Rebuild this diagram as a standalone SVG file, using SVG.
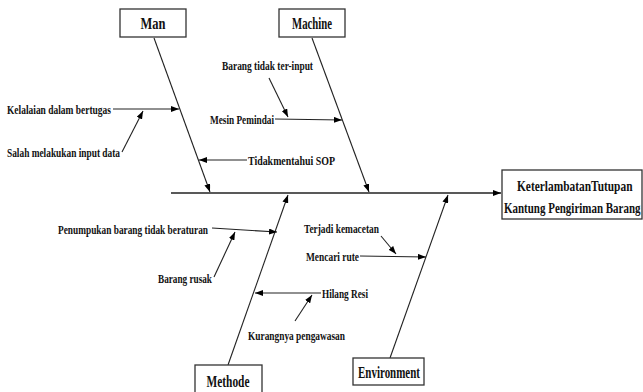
<svg xmlns="http://www.w3.org/2000/svg" width="643" height="392" viewBox="0 0 643 392">
<defs>
<marker id="ah" markerUnits="userSpaceOnUse" markerWidth="8" markerHeight="6" refX="8" refY="3" orient="auto">
<path d="M0,0 L8,3 L0,6 z" fill="#000"/>
</marker>
<style>
.box{fill:#fff;stroke:#333;stroke-width:1.3}
.t{font-family:"Liberation Serif",serif;font-weight:bold;font-size:13.5px;fill:#111}
.bt{font-family:"Liberation Serif",serif;font-weight:bold;font-size:17px;fill:#111;text-anchor:middle}
.et{font-family:"Liberation Serif",serif;font-weight:bold;font-size:15px;fill:#111}
.c line{stroke:#222;stroke-width:1.1;marker-end:url(#ah)}
</style>
</defs>
<rect width="643" height="392" fill="#fff"/>
<g id="connectors" class="c">
<line x1="171" y1="193" x2="501" y2="193" style="stroke-width:1.5"/>
<line x1="154" y1="38" x2="210" y2="192"/>
<line x1="312" y1="38" x2="369" y2="192"/>
<line x1="228" y1="365" x2="288" y2="195"/>
<line x1="390" y1="358" x2="448" y2="195"/>
<line x1="113" y1="109" x2="179" y2="109"/>
<line x1="122" y1="152" x2="143" y2="111"/>
<line x1="247" y1="160" x2="199" y2="160"/>
<line x1="269" y1="78" x2="288" y2="117"/>
<line x1="275" y1="119" x2="342" y2="120"/>
<line x1="212" y1="228" x2="277" y2="232"/>
<line x1="214" y1="277" x2="235" y2="232"/>
<line x1="321" y1="293" x2="255" y2="293"/>
<line x1="295" y1="321" x2="312" y2="295"/>
<line x1="381" y1="236" x2="396" y2="254"/>
<line x1="360" y1="256" x2="426" y2="257"/>
</g>
<g id="man"><rect class="box" x="120" y="9" width="66" height="28"/><text class="bt" x="153" y="29" textLength="25" lengthAdjust="spacingAndGlyphs">Man</text></g>
<g id="machine"><rect class="box" x="279" y="9" width="66" height="28"/><text class="bt" x="312" y="29" textLength="40" lengthAdjust="spacingAndGlyphs">Machine</text></g>
<g id="methode"><rect class="box" x="195" y="365" width="67" height="30"/><text class="bt" x="228" y="387" textLength="43" lengthAdjust="spacingAndGlyphs">Methode</text></g>
<g id="environment"><rect class="box" x="353" y="358" width="71" height="27"/><text class="bt" x="389" y="378" textLength="62" lengthAdjust="spacingAndGlyphs">Environment</text></g>
<g id="effect"><rect class="box" x="502" y="170" width="140" height="49"/>
<text class="et" transform="translate(517,191) scale(0.75,1)" textLength="154" lengthAdjust="spacingAndGlyphs">KeterlambatanTutupan</text>
<text class="et" transform="translate(504,213) scale(0.75,1)" textLength="182" lengthAdjust="spacingAndGlyphs">Kantung Pengiriman Barang</text></g>
<g id="kelalaian"><text class="t" x="7" y="114" textLength="104" lengthAdjust="spacingAndGlyphs">Kelalaian dalam bertugas</text></g>
<g id="salah"><text class="t" x="7" y="157" textLength="113" lengthAdjust="spacingAndGlyphs">Salah melakukan input data</text></g>
<g id="tidak-sop"><text class="t" x="248" y="165" textLength="87" lengthAdjust="spacingAndGlyphs">Tidakmentahui SOP</text></g>
<g id="barang-tidak"><text class="t" x="222" y="70" textLength="91" lengthAdjust="spacingAndGlyphs">Barang tidak ter-input</text></g>
<g id="mesin"><text class="t" x="210" y="124" textLength="64" lengthAdjust="spacingAndGlyphs">Mesin Pemindai</text></g>
<g id="penumpukan"><text class="t" x="58" y="234" textLength="150" lengthAdjust="spacingAndGlyphs">Penumpukan barang tidak beraturan</text></g>
<g id="barang-rusak"><text class="t" x="158" y="283" textLength="54" lengthAdjust="spacingAndGlyphs">Barang rusak</text></g>
<g id="hilang-resi"><text class="t" x="322" y="298" textLength="46" lengthAdjust="spacingAndGlyphs">Hilang Resi</text></g>
<g id="kurangnya"><text class="t" x="248" y="340" textLength="97" lengthAdjust="spacingAndGlyphs">Kurangnya pengawasan</text></g>
<g id="terjadi"><text class="t" x="304" y="233" textLength="75" lengthAdjust="spacingAndGlyphs">Terjadi kemacetan</text></g>
<g id="mencari"><text class="t" x="306" y="261" textLength="53" lengthAdjust="spacingAndGlyphs">Mencari rute</text></g>
</svg>
